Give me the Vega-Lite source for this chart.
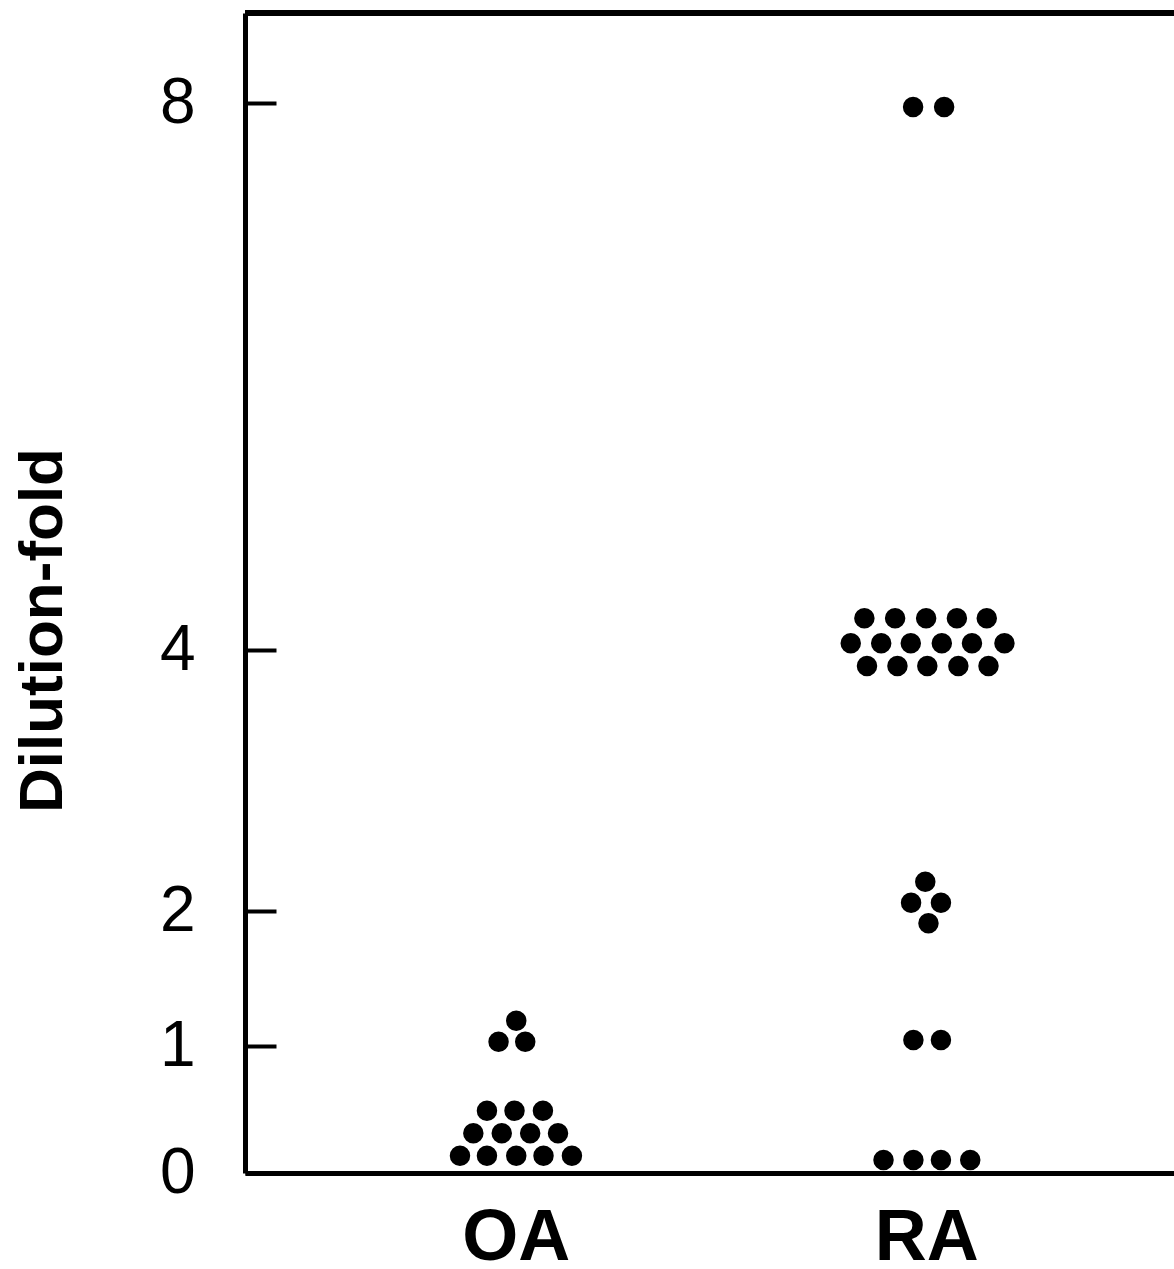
{
  "$schema": "https://vega.github.io/schema/vega-lite/v6.json",
  "autosize": "none",
  "width": 929,
  "height": 1160,
  "padding": {"left": 245, "top": 13, "right": 0, "bottom": 96},
  "background": "white",
  "config": {
    "view": {"stroke": null},
    "font": "Liberation Sans"
  },
  "data": {
    "values": [
      {"group": "OA", "dilution": 0.136, "swarmX": -1.92},
      {"group": "OA", "dilution": 0.136, "swarmX": -0.99},
      {"group": "OA", "dilution": 0.136, "swarmX": 0.02},
      {"group": "OA", "dilution": 0.136, "swarmX": 0.96},
      {"group": "OA", "dilution": 0.136, "swarmX": 1.94},
      {"group": "OA", "dilution": 0.313, "swarmX": -1.46},
      {"group": "OA", "dilution": 0.313, "swarmX": -0.48},
      {"group": "OA", "dilution": 0.313, "swarmX": 0.5},
      {"group": "OA", "dilution": 0.313, "swarmX": 1.46},
      {"group": "OA", "dilution": 0.49, "swarmX": -0.99},
      {"group": "OA", "dilution": 0.49, "swarmX": -0.04},
      {"group": "OA", "dilution": 0.49, "swarmX": 0.94},
      {"group": "OA", "dilution": 1.032, "swarmX": -0.59},
      {"group": "OA", "dilution": 1.032, "swarmX": 0.33},
      {"group": "OA", "dilution": 1.187, "swarmX": 0.02},
      {"group": "RA", "dilution": 0.102, "swarmX": -1.47},
      {"group": "RA", "dilution": 0.102, "swarmX": -0.44},
      {"group": "RA", "dilution": 0.102, "swarmX": 0.51},
      {"group": "RA", "dilution": 0.102, "swarmX": 1.52},
      {"group": "RA", "dilution": 1.044, "swarmX": -0.44},
      {"group": "RA", "dilution": 1.044, "swarmX": 0.51},
      {"group": "RA", "dilution": 2.225, "swarmX": -0.03},
      {"group": "RA", "dilution": 2.064, "swarmX": -0.52},
      {"group": "RA", "dilution": 2.064, "swarmX": 0.51},
      {"group": "RA", "dilution": 1.909, "swarmX": 0.08},
      {"group": "RA", "dilution": 4.232, "swarmX": -2.13},
      {"group": "RA", "dilution": 4.232, "swarmX": -1.07},
      {"group": "RA", "dilution": 4.232, "swarmX": 0},
      {"group": "RA", "dilution": 4.232, "swarmX": 1.06},
      {"group": "RA", "dilution": 4.232, "swarmX": 2.09},
      {"group": "RA", "dilution": 4.049, "swarmX": -2.6},
      {"group": "RA", "dilution": 4.049, "swarmX": -1.55},
      {"group": "RA", "dilution": 4.049, "swarmX": -0.53},
      {"group": "RA", "dilution": 4.049, "swarmX": 0.54},
      {"group": "RA", "dilution": 4.049, "swarmX": 1.58},
      {"group": "RA", "dilution": 4.049, "swarmX": 2.7},
      {"group": "RA", "dilution": 3.877, "swarmX": -2.04},
      {"group": "RA", "dilution": 3.877, "swarmX": -0.99},
      {"group": "RA", "dilution": 3.877, "swarmX": 0.04},
      {"group": "RA", "dilution": 3.877, "swarmX": 1.11},
      {"group": "RA", "dilution": 3.877, "swarmX": 2.15},
      {"group": "RA", "dilution": 7.971, "swarmX": -0.45},
      {"group": "RA", "dilution": 7.971, "swarmX": 0.62}
    ]
  },
  "layer": [
    {
      "mark": {"type": "circle", "color": "black", "opacity": 1, "size": 420},
      "encoding": {
        "x": {
          "field": "group",
          "type": "nominal",
          "scale": {"type": "point", "domain": ["OA", "RA"], "padding": 0.6316, "align": 0.522},
          "axis": {
            "title": null,
            "ticks": false,
            "domain": true,
            "domainColor": "black",
            "domainWidth": 5,
            "labelAngle": 0,
            "labelFontSize": 72,
            "labelFontWeight": "bold",
            "labelColor": "black",
            "labelPadding": 29,
            "grid": false
          }
        },
        "xOffset": {
          "field": "swarmX",
          "type": "quantitative",
          "scale": {"domain": [-10, 10], "range": [-290, 290]}
        },
        "y": {
          "field": "dilution",
          "type": "quantitative",
          "scale": {
            "domain": [0, 1, 2, 4, 8, 8.66],
            "range": [1160, 1033, 898, 637, 90, 0],
            "nice": false,
            "zero": false
          },
          "axis": {
            "values": [0, 1, 2, 4, 8],
            "format": "d",
            "title": "Dilution-fold",
            "grid": false,
            "domainColor": "black",
            "domainWidth": 5,
            "tickColor": "black",
            "tickWidth": 4,
            "tickSize": -31,
            "labelFontSize": 64,
            "labelColor": "black",
            "labelPadding": 81,
            "titleFontSize": 62,
            "titleFontWeight": "bold",
            "titleColor": "black",
            "titleX": -184,
            "titleY": 617,
            "titleAlign": "center",
            "titleBaseline": "alphabetic",
            "titleAngle": -90
          }
        }
      }
    },
    {
      "mark": {"type": "rule", "color": "black", "strokeWidth": 5},
      "encoding": {"y": {"datum": 8.66}}
    }
  ]
}
